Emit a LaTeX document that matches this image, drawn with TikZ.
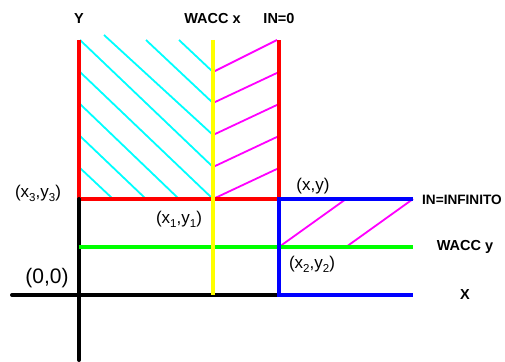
\documentclass[tikz,border=0pt]{standalone}
\usepackage{fontspec}
\setmainfont{Liberation Sans}
\definecolor{cc}{RGB}{0,255,255}
\definecolor{mm}{RGB}{255,0,255}
\definecolor{rr}{RGB}{255,0,0}
\definecolor{gg}{RGB}{0,255,0}
\definecolor{bb}{RGB}{0,0,255}
\definecolor{yy}{RGB}{255,255,0}
\newcommand\mysb[1]{\raisebox{-0.28em}{\fontsize{11.5}{11.5}\selectfont #1}}
\begin{document}
\begin{tikzpicture}[x=1pt,y=-1pt,
  axis/.style={line width=4pt},
  hatchc/.style={line width=1.8pt,cc},
  hatchm/.style={line width=1.8pt,mm},
  lbl/.style={font=\bfseries\fontsize{14.5}{15}\selectfont, inner sep=0pt, anchor=base},
  ptl/.style={font=\fontsize{17}{18}\selectfont, inner sep=0pt, anchor=base}]
\useasboundingbox (0,0) rectangle (505,361);
% key points
\coordinate (TL) at (79,40);
\coordinate (TR) at (279,40);
\coordinate (BL) at (79,199);
\coordinate (BR) at (279,199);
\coordinate (Yt) at (213,40);
\coordinate (Yb) at (213,295);
\coordinate (Xl) at (12,295);
\coordinate (Xr) at (279,295);
\coordinate (Vb) at (79,360);
\coordinate (Gl) at (79,247);
\coordinate (Gm) at (279,247);
\coordinate (Gr) at (413,247);
\coordinate (Bt) at (413,199);
\coordinate (Bb) at (413,295);
\coordinate (Mm) at (346,199);
\coordinate (Mg) at (346,247);
% cyan hatching
\draw[hatchc] (179,40) -- (213,72);
\draw[hatchc] (146,40) -- (213,103);
\draw[hatchc] (104,35) -- (213,135);
\draw[hatchc] (80,40) -- (213,167);
\draw[hatchc] (80,72) -- (213,199);
\draw[hatchc] (80,104) -- (179,199);
\draw[hatchc] (80,136) -- (146,199);
\draw[hatchc] (80,168) -- (113,199);
% magenta hatching
\draw[hatchm] (213,72) -- (277,40);
\draw[hatchm] (213,103) -- (279,72);
\draw[hatchm] (213,135) -- (279,104);
\draw[hatchm] (213,167) -- (279,136);
\draw[hatchm] (213,199) -- (279,168);
\draw[hatchm] (Gm) -- (Mm);
\draw[hatchm] (Mg) -- (Bt);
% red box
\draw[axis,rr] (TL) -- (BL) -- (BR) -- (TR);
% black axes
\draw[axis,black,line cap=round] (Xl) -- (Xr);
\draw[axis,black,line cap=round] (BL) -- (Vb);
% green
\draw[axis,gg] (Gl) -- (Gr);
% blue
\draw[axis,bb] (Bt) -- (BR) -- (Xr) -- (Bb);
% yellow
\draw[axis,yy] (Yt) -- (Yb);
% labels
\node[lbl] (lY) at (79,24) {Y};
\node[lbl] (lW) at (212.5,24) {WACC x};
\node[lbl] (lI0) at (279,24) {IN=0};
\node[lbl,anchor=base west,font=\bfseries\fontsize{13.6}{14}\selectfont] (lII) at (422,204) {IN=INFINITO};
\node[lbl] (lWy) at (465,250) {WACC y};
\node[lbl] (lX) at (465,299) {X};
\node[ptl] (p3) at (38,197) {(x\mysb{3},y\mysb{3})};
\node[ptl] (p1) at (179,223) {(x\mysb{1},y\mysb{1})};
\node[ptl] (p) at (313,190) {(x,y)};
\node[ptl] (p2) at (312,268) {(x\mysb{2},y\mysb{2})};
\node[font=\fontsize{21}{22}\selectfont, inner sep=0pt, anchor=base] (p0) at (47,283) {(0,0)};
\end{tikzpicture}
\end{document}
